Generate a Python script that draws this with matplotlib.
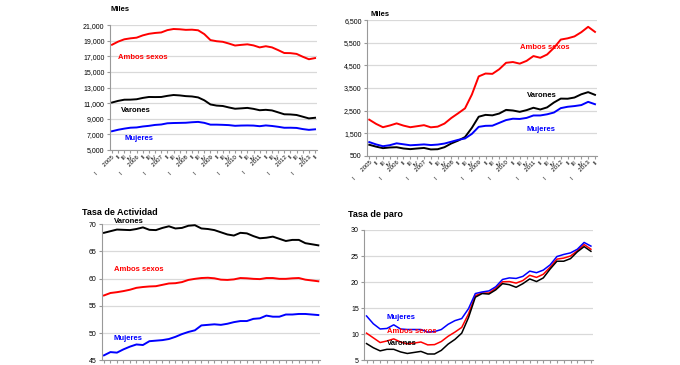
import matplotlib
matplotlib.use("Agg")
import matplotlib.pyplot as plt
from matplotlib.ticker import FuncFormatter

plt.rcParams["font.family"] = ["Liberation Sans", "DejaVu Sans"]

# quarters 2005 I .. 2013 II
years = [str(y) for y in range(2005, 2014)]
quarters = ["I", "II", "III", "IV"]
qlabels = []
for y in years:
    for q in quarters:
        qlabels.append(q + "      " + y if q == "I" else q)
qlabels = qlabels[:34]

# Ocupados (miles)
ocu_ambos = [18493, 18895, 19191, 19315, 19400, 19693, 19896, 20002, 20069, 20367, 20511, 20476,
             20402, 20425, 20346, 19857, 19091, 18945, 18870, 18646, 18394, 18477, 18547, 18408,
             18152, 18303, 18156, 17808, 17433, 17417, 17320, 16957, 16635, 16784]
ocu_var = [11086, 11298, 11449, 11456, 11507, 11677, 11798, 11786, 11797, 11941, 12051, 12000,
           11907, 11865, 11742, 11374, 10840, 10694, 10643, 10455, 10291, 10341, 10399, 10276,
           10099, 10152, 10074, 9830, 9581, 9559, 9489, 9272, 9052, 9132]
ocu_muj = [7407, 7597, 7742, 7859, 7893, 8016, 8098, 8216, 8272, 8426, 8460, 8476,
           8495, 8560, 8604, 8483, 8251, 8251, 8227, 8191, 8103, 8136, 8148, 8132,
           8053, 8151, 8082, 7978, 7852, 7858, 7831, 7685, 7583, 7652]

# Parados (miles)
par_ambos = [2099, 1913, 1766, 1841, 1935, 1837, 1765, 1810, 1856, 1761, 1791, 1927,
             2174, 2382, 2599, 3208, 4011, 4138, 4123, 4327, 4612, 4646, 4575, 4697,
             4910, 4834, 4978, 5273, 5639, 5693, 5778, 5965, 6202, 5978]
par_var = [990, 907, 840, 870, 881, 826, 797, 825, 850, 784, 793, 883,
           1049, 1174, 1331, 1737, 2229, 2311, 2290, 2370, 2531, 2505, 2445, 2520,
           2625, 2549, 2642, 2858, 3030, 3024, 3078, 3221, 3316, 3196]
par_muj = [1109, 1006, 926, 971, 1054, 1011, 968, 985, 1006, 977, 998, 1044,
           1125, 1208, 1268, 1471, 1782, 1827, 1833, 1957, 2081, 2141, 2130, 2177,
           2285, 2285, 2336, 2415, 2609, 2669, 2700, 2744, 2886, 2782]

# Tasa de actividad
act_ambos = [56.9, 57.35, 57.5, 57.7, 57.95, 58.3, 58.45, 58.55, 58.6, 58.85, 59.1, 59.15,
             59.35, 59.75, 59.95, 60.1, 60.15, 60.05, 59.8, 59.75, 59.85, 60.1, 60.05, 59.95,
             59.9, 60.1, 60.1, 59.95, 59.95, 60.05, 60.1, 59.8, 59.65, 59.5]
act_var = [68.4, 68.7, 69.0, 68.95, 68.9, 69.1, 69.4, 68.95, 68.9, 69.3, 69.6, 69.2,
           69.3, 69.7, 69.8, 69.2, 69.1, 68.9, 68.5, 68.1, 67.9, 68.4, 68.3, 67.8,
           67.4, 67.5, 67.7, 67.3, 66.9, 67.1, 67.1, 66.5, 66.3, 66.1]
act_muj = [45.9, 46.5, 46.4, 47.0, 47.5, 47.9, 47.8, 48.5, 48.6, 48.7, 48.9, 49.3,
           49.8, 50.2, 50.5, 51.4, 51.5, 51.6, 51.5, 51.7, 52.0, 52.2, 52.2, 52.6,
           52.7, 53.2, 53.0, 53.0, 53.4, 53.4, 53.5, 53.5, 53.4, 53.3]

# Tasa de paro
paro_ambos = [10.2, 9.3, 8.4, 8.7, 9.1, 8.5, 8.15, 8.3, 8.5, 7.95, 8.0, 8.6,
              9.6, 10.4, 11.3, 13.9, 17.4, 17.9, 17.9, 18.8, 20.05, 20.1, 19.8, 20.3,
              21.3, 20.9, 21.5, 22.85, 24.4, 24.6, 25.0, 26.0, 27.2, 26.3]
paro_var = [8.2, 7.4, 6.8, 7.1, 7.1, 6.6, 6.3, 6.5, 6.7, 6.2, 6.2, 6.9,
            8.1, 9.0, 10.2, 13.2, 17.1, 17.8, 17.7, 18.5, 19.7, 19.5, 19.0, 19.7,
            20.6, 20.1, 20.8, 22.5, 24.0, 24.0, 24.5, 25.8, 26.8, 25.9]
paro_muj = [13.5, 12.0, 11.0, 11.1, 11.8, 11.0, 10.9, 10.9, 10.9, 10.4, 10.5, 10.9,
            11.9, 12.6, 13.0, 14.9, 17.8, 18.1, 18.3, 19.1, 20.5, 20.8, 20.7, 21.1,
            22.1, 21.8, 22.3, 23.3, 24.9, 25.3, 25.6, 26.3, 27.6, 26.9]

x = list(range(34))
RED, BLUE, BLACK = "#ff0000", "#0000ff", "#000000"
GRID = "#d9d9d9"

fig = plt.figure(figsize=(6.8, 3.65), dpi=100)


def style(ax, ylim, step, fmt=None, xlabels=True):
    ax.set_xlim(-0.3, 33.3)
    ax.set_ylim(*ylim)
    ax.set_yticks(range(ylim[0], ylim[1] + 1, step))
    if fmt:
        ax.yaxis.set_major_formatter(FuncFormatter(fmt))
    ax.grid(axis="y", color=GRID, lw=0.9)
    ax.set_axisbelow(True)
    for s in ["top", "right"]:
        ax.spines[s].set_visible(False)
    for s in ["left", "bottom"]:
        ax.spines[s].set_color("#999999")
        ax.spines[s].set_linewidth(0.8)
    ax.tick_params(axis="y", labelsize=5, length=2, color="#999999", pad=2)
    ax.tick_params(axis="x", length=2, color="#999999", pad=1)
    ax.set_xticks(x)
    if xlabels:
        ax.set_xticklabels(qlabels, rotation=45, ha="right", rotation_mode="anchor", fontsize=4.3)
    else:
        ax.set_xticklabels([])


def lines(ax, amb, var, muj, lw=1.4):
    ax.plot(x, amb, color=RED, lw=lw)
    ax.plot(x, var, color=BLACK, lw=lw)
    ax.plot(x, muj, color=BLUE, lw=lw)


thousands = lambda v, p: f"{int(v):,}"

# Top-left: ocupados
ax1 = fig.add_axes([0.162, 0.589, 0.304, 0.342])
lines(ax1, ocu_ambos, ocu_var, ocu_muj)
style(ax1, (5000, 21000), 2000, thousands)
ax1.text(0.0, 1.11, "Miles", transform=ax1.transAxes, fontsize=5.5, fontweight="bold", ha="left")
ax1.text(1.0, 16700, "Ambos sexos", color=RED, fontsize=5.5, fontweight="bold")
ax1.text(1.5, 9900, "Varones", color=BLACK, fontsize=5.5, fontweight="bold")
ax1.text(2.0, 6300, "Mujeres", color=BLUE, fontsize=5.5, fontweight="bold")

# Top-right: parados
ax2 = fig.add_axes([0.540, 0.573, 0.338, 0.372])
lines(ax2, par_ambos, par_var, par_muj)
style(ax2, (500, 6500), 1000, thousands)
ax2.text(0.015, 1.03, "Miles", transform=ax2.transAxes, fontsize=5.5, fontweight="bold", ha="left")
ax2.text(22.0, 5200, "Ambos sexos", color=RED, fontsize=5.5, fontweight="bold")
ax2.text(23.0, 3100, "Varones", color=BLACK, fontsize=5.5, fontweight="bold")
ax2.text(23.0, 1600, "Mujeres", color=BLUE, fontsize=5.5, fontweight="bold")

# Bottom-left: tasa de actividad
ax3 = fig.add_axes([0.150, 0.013, 0.321, 0.373])
lines(ax3, act_ambos, act_var, act_muj)
style(ax3, (45, 70), 5, xlabels=False)
ax3.text(-0.09, 1.07, "Tasa de Actividad", transform=ax3.transAxes, fontsize=6.5, fontweight="bold", ha="left")
ax3.text(1.5, 70.2, "Varones", color=BLACK, fontsize=5.5, fontweight="bold")
ax3.text(1.5, 61.3, "Ambos sexos", color=RED, fontsize=5.5, fontweight="bold")
ax3.text(1.5, 48.7, "Mujeres", color=BLUE, fontsize=5.5, fontweight="bold")

# Bottom-right: tasa de paro
ax4 = fig.add_axes([0.536, 0.013, 0.336, 0.357])
lines(ax4, paro_ambos, paro_var, paro_muj, lw=1.1)
style(ax4, (5, 30), 5, xlabels=False)
ax4.text(-0.07, 1.1, "Tasa de paro", transform=ax4.transAxes, fontsize=6.5, fontweight="bold", ha="left")
ax4.text(3.0, 13.0, "Mujeres", color=BLUE, fontsize=5.5, fontweight="bold")
ax4.text(3.0, 10.3, "Ambos sexos", color=RED, fontsize=5.5, fontweight="bold")
ax4.text(3.0, 7.9, "Varones", color=BLACK, fontsize=5.5, fontweight="bold")

fig.savefig("out.png", dpi=100)
